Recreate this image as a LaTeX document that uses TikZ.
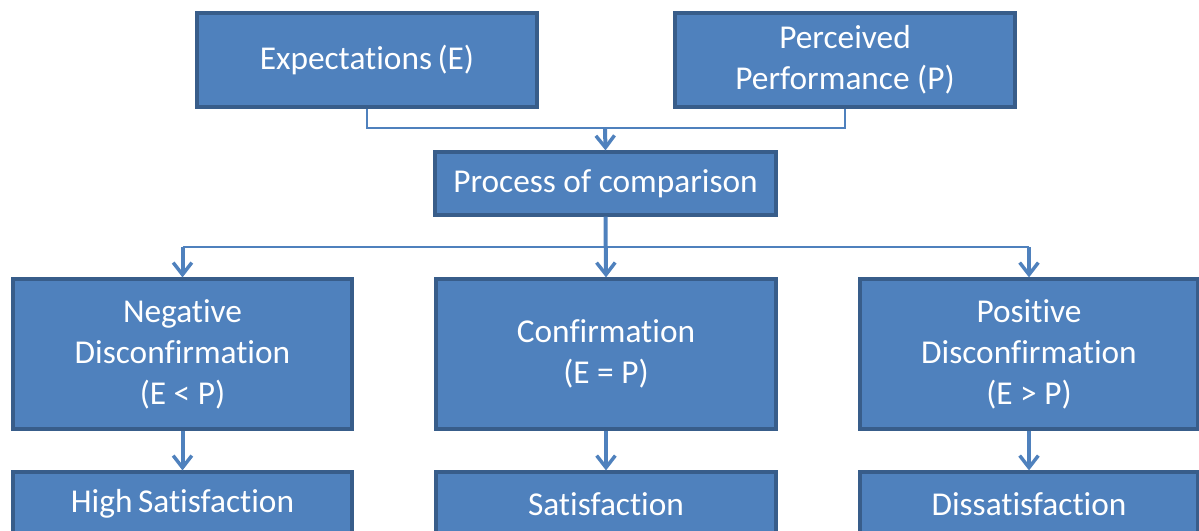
\documentclass[tikz,border=0pt]{standalone}
\usepackage{fontspec}
\setmainfont[Ligatures=NoCommon]{Carlito}
\usetikzlibrary{arrows.meta}
\definecolor{boxfill}{HTML}{4F81BD}
\definecolor{boxline}{HTML}{385D8A}
\begin{document}
\begin{tikzpicture}[x=0.75pt,y=-0.75pt,
  box/.style={draw=boxline,line width=2.4pt,fill=boxfill,text=white,align=center,
    font=\fontsize{25}{30.75}\selectfont,inner sep=0pt,anchor=center},
  conn/.style={draw=boxfill,line width=2pt},
  arr/.style={draw=boxfill,line width=3pt,-{Straight Barb[length=9pt,width=14pt,line width=2.6pt]}}]
\useasboundingbox (0,0) rectangle (1199,531);
\clip (0,0) rectangle (1199,531);
\node[box,minimum width=340*0.75pt,minimum height=94*0.75pt] (E) at (367,60) {Expectations\,(E)};
\node[box,minimum width=340*0.75pt,minimum height=94*0.75pt] (P) at (845,60) {Perceived\\Performance (P)};
\node[box,minimum width=341*0.75pt,minimum height=63*0.75pt] (C) at (605.5,183.5) {Process of comparison};
\node[box,minimum width=339*0.75pt,minimum height=150*0.75pt] (N) at (182.5,354) {Negative\\Disconfirmation\\(E < P)};
\node[box,minimum width=340*0.75pt,minimum height=150*0.75pt] (F) at (606,354) {Confirmation\\(E = P)};
\node[box,minimum width=338*0.75pt,minimum height=150*0.75pt] (Q) at (1029,354) {Positive\\Disconfirmation\\(E > P)};
\node[box,minimum width=339*0.75pt,minimum height=64*0.75pt] (HS) at (182.5,504) {High\,Satisfaction};
\node[box,minimum width=340*0.75pt,minimum height=64*0.75pt] (S) at (606,504) {Satisfaction};
\node[box,minimum width=338*0.75pt,minimum height=64*0.75pt] (D) at (1029,504) {Dissatisfaction};
\coordinate (j1) at (605,128);
\coordinate (j2) at (605,247);
\draw[conn] (E.south) |- (j1) -| (P.south);
\draw[arr] (j1) -- (C.north);
\draw[arr] (C.south) -- (F.north);
\draw[conn] (N.north |- j2) -- (Q.north |- j2);
\draw[arr] (N.north |- j2) -- (N.north);
\draw[arr] (Q.north |- j2) -- (Q.north);
\draw[arr] (N.south) -- (HS.north);
\draw[arr] (F.south) -- (S.north);
\draw[arr] (Q.south) -- (D.north);
\end{tikzpicture}
\end{document}
